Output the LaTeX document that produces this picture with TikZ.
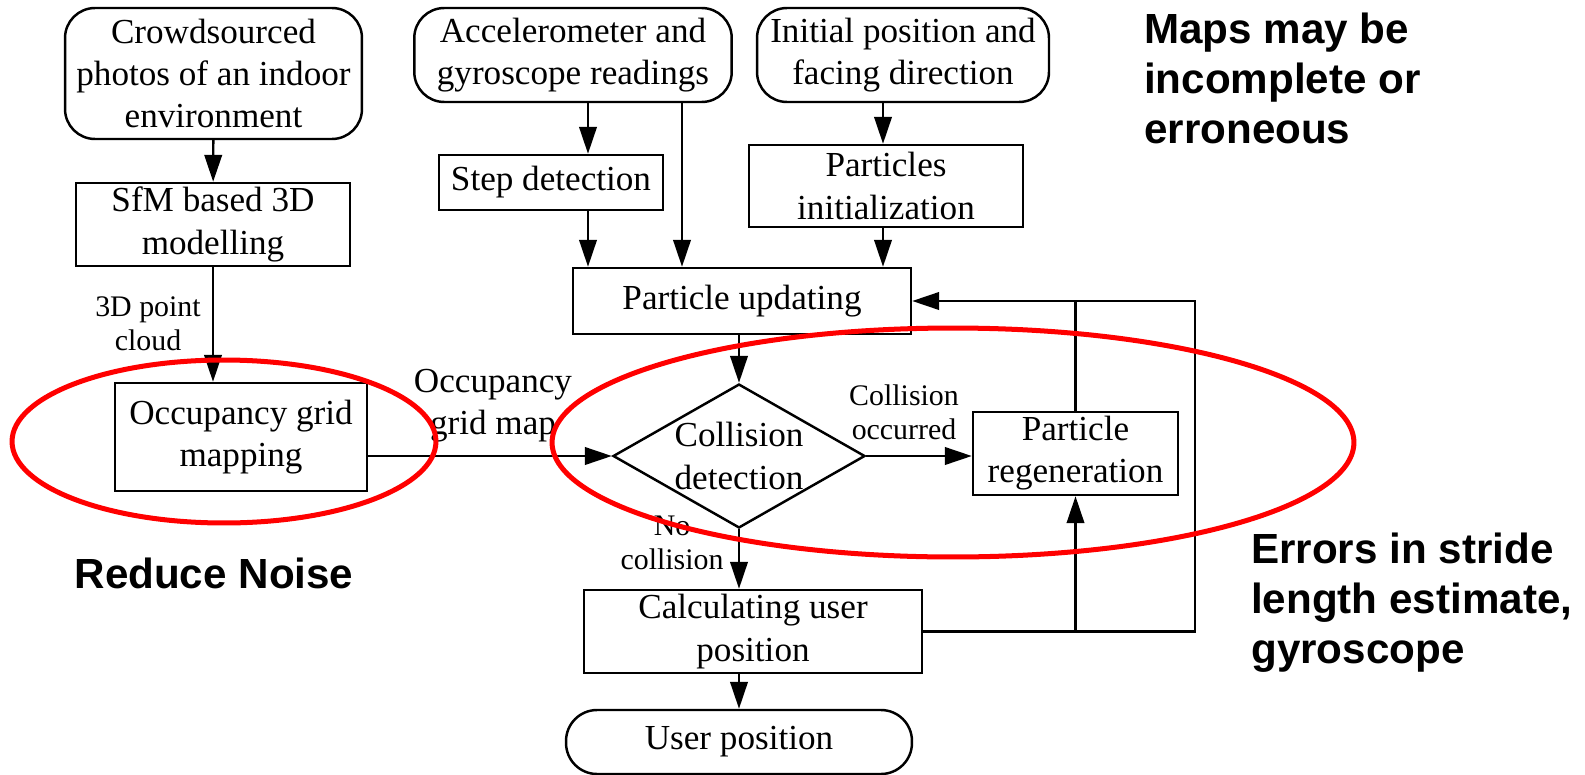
\documentclass[tikz,border=0pt]{standalone}
\usepackage{fontspec}
\setmainfont{Liberation Serif}
\newfontfamily\notefont{Liberation Sans}
\usetikzlibrary{arrows.meta}
\usetikzlibrary{shapes.geometric}
\newcommand{\boxfont}{\fontsize{20}{24}\selectfont}
\newcommand{\smallfont}{\fontsize{17}{19.5}\selectfont}
\newcommand{\notesize}{\notefont\bfseries\fontsize{24}{28.5}\selectfont}

\begin{document}
\begin{tikzpicture}[x=0.02cm,y=-0.02cm,>={Triangle[length=0.54cm,width=0.35cm]},line width=1.4pt]
\tikzstyle{term}=[draw,rounded corners=0.6cm,align=center,font=\boxfont,inner sep=0pt]
\tikzstyle{proc}=[draw,rectangle,align=center,font=\boxfont,inner sep=0pt]
\tikzstyle{dec}=[draw,diamond,inner sep=0pt]
\tikzstyle{lbl}=[align=center,font=\smallfont,inner sep=0pt]
\tikzstyle{note}=[align=left,font=\notesize,inner sep=0pt]
\tikzstyle{ring}=[draw=red,line width=2.85pt]
\useasboundingbox (0,0) rectangle (1585,774);

% inputs
\node[term,minimum width=5.94cm,minimum height=2.62cm] (crowd) at (213.5,73.5) {Crowdsourced\\photos of an indoor\\environment};
\node[term,minimum width=6.35cm,minimum height=1.88cm] (acc) at (573,55) {Accelerometer and\\gyroscope readings};
\node[term,minimum width=5.84cm,minimum height=1.88cm] (init) at (903,55) {Initial position and\\facing direction};

% processing
\node[proc,minimum width=5.48cm,minimum height=1.66cm] (sfm) at (213,224.5) {SfM based 3D\\modelling};
\node[proc,minimum width=5.04cm,minimum height=2.16cm] (occ) at (241,437) {Occupancy grid\\mapping};
\node[proc,minimum width=4.48cm,minimum height=1.1cm] (step) at (551,182.5) {Step detection};
\node[proc,minimum width=5.48cm,minimum height=1.64cm] (pinit) at (886,186) {Particles\\initialization};
\node[proc,minimum width=6.76cm,minimum height=1.32cm] (pu) at (742,301) {Particle updating};
\node[dec,minimum width=5.04cm,minimum height=2.88cm] (cd) at (739,456) {};
\node[align=center,font=\boxfont,inner sep=0pt] (cdtext) at (cd) {Collision\\detection};
\node[proc,minimum width=4.1cm,minimum height=1.66cm] (pr) at (1075.5,453.5) {Particle\\regeneration};
\node[proc,minimum width=6.76cm,minimum height=1.66cm] (calc) at (753,631.5) {Calculating user\\position};
\node[term,rounded corners=0.62cm,minimum width=6.92cm,minimum height=1.28cm] (up) at (739,742) {User position};

% columns of the arrows
\coordinate (c1) at (588,0);
\coordinate (c2) at (682,0);
\coordinate (c3) at (883,0);
\coordinate (fr) at (1195,0);

\draw[->] (crowd) -- (sfm);
\draw[->] (sfm.south) -- (sfm.south |- occ.north);
\draw[->] (occ.east |- cd.west) -- (cd.west);
\draw[->] (acc.south -| c1) -- (step.north -| c1);
\draw[->] (step.south -| c1) -- (pu.north -| c1);
\draw[->] (acc.south -| c2) -- (pu.north -| c2);
\draw[->] (init.south -| c3) -- (pinit.north -| c3);
\draw[->] (pinit.south -| c3) -- (pu.north -| c3);
\draw[->] (pu.south -| cd) -- (cd.north);
\draw[->] (cd.east) -- (pr.west |- cd.east);
\draw[->] (cd.south) -- (cd.south |- calc.north);
\draw[->] (calc.south -| up) -- (up.north);
\draw[->] (calc.east) -- (calc.east -| fr) |- (pu.east);
\draw[->] (calc.east -| pr) -- (pr.south);
\draw (pr.north) -- (pr.north |- pu.east);

% edge labels
\node[lbl] (cloud) at (148,324) {3D point\\cloud};
\node[align=center,font=\boxfont,inner sep=0pt] (gridmap) at (493,406) {Occupancy\\grid map};
\node[lbl] (occurred) at (904,412) {Collision\\occurred};
\node[lbl] (nocoll) at (672,543) {No\\collision};

% remarks
\draw[ring] (224,441.5) ellipse [x radius=4.24cm,y radius=1.63cm];
\draw[ring] (953,442.5) ellipse [x radius=8.02cm,y radius=2.29cm];
\node[note,anchor=west] (maps) at (1143,78) {Maps may be\\incomplete or\\erroneous};
\node[note,anchor=west] (errors) at (1250,603) {Errors in stride\\length estimate,\\gyroscope};
\node[note] (noise) at (214,573) {Reduce Noise};
\end{tikzpicture}
\end{document}
